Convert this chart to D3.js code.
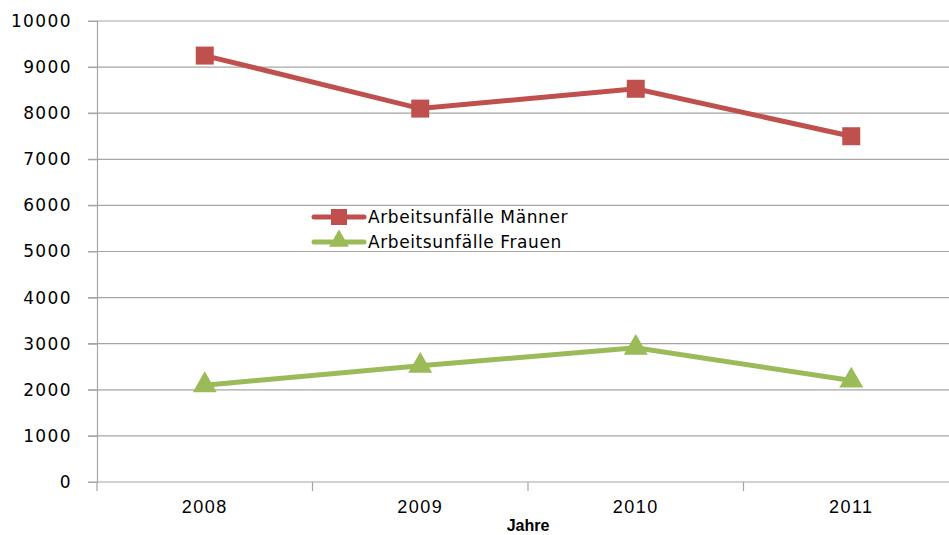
<!DOCTYPE html>
<html>
<head>
<meta charset="utf-8">
<script src="https://cdn.jsdelivr.net/npm/d3@7"></script>
<style>
  body { margin: 0; background: #fff; }
  svg { display: block; }
</style>
</head>
<body>
<div id="chart"></div>
<script>
// Arbeitsunfälle nach Geschlecht
var years = ["2008", "2009", "2010", "2011"];
var maenner = [9250, 8100, 8530, 7500];
var frauen = [2100, 2520, 2910, 2200];
var yTicks = [0, 1000, 2000, 3000, 4000, 5000, 6000, 7000, 8000, 9000, 10000];
var seriesNames = ["Arbeitsunfälle Männer", "Arbeitsunfälle Frauen"];

var W = 949, H = 535;
var margin = {top: 21, right: -10, bottom: 53, left: 97},
    width = W - margin.left - margin.right,
    height = H - margin.top - margin.bottom;

var red = "#c0504d", green = "#9bbb59";

var svg = d3.select("#chart")
  .append("svg")
  .attr("width", W)
  .attr("height", H)
  .append("g")
  .attr("transform", "translate(" + margin.left + "," + margin.top + ")");

var x = d3.scaleBand()
  .domain(years)
  .range([0, width]);

var y = d3.scaleLinear()
  .domain([0, 10000])
  .range([height, 0]);

// gridlines
svg.selectAll(".grid")
  .data(yTicks)
  .enter().append("line")
  .attr("x1", -9)
  .attr("x2", width)
  .attr("y1", function(d) { return y(d); })
  .attr("y2", function(d) { return y(d); })
  .attr("stroke", "#a6a6a6")
  .attr("stroke-width", 1.2);

// y axis
var yAxis = svg.append("g")
  .call(d3.axisLeft(y).tickValues(yTicks).tickFormat(d3.format("d")).tickSize(9).tickPadding(16));
yAxis.select(".domain").attr("stroke", "#a6a6a6").attr("stroke-width", 1.2);
yAxis.selectAll(".tick line").attr("stroke", "#a6a6a6");
yAxis.selectAll("text")
  .style("font-family", "DejaVu Sans, Verdana, sans-serif")
  .style("font-size", "17px")
  .style("letter-spacing", "1.4px")
  .attr("fill", "#000");

// x axis
var xAxis = svg.append("g")
  .attr("transform", "translate(0," + height + ")")
  .call(d3.axisBottom(x).tickSize(0).tickPadding(18));
xAxis.select(".domain").remove();
xAxis.selectAll("text")
  .style("font-family", "Liberation Sans Narrow, Liberation Sans, sans-serif")
  .style("font-size", "18px")
  .style("letter-spacing", "1.5px")
  .attr("fill", "#000");

// category separators
svg.selectAll(".xtick")
  .data(years)
  .enter().append("line")
  .attr("x1", function(d) { return x(d); })
  .attr("x2", function(d) { return x(d); })
  .attr("y1", height)
  .attr("y2", height + 9)
  .attr("stroke", "#a6a6a6")
  .attr("stroke-width", 1.2);

svg.append("text")
  .attr("x", (x("2009") + x("2010") + x.bandwidth()) / 2)
  .attr("y", height + 49)
  .attr("text-anchor", "middle")
  .style("font-family", "Liberation Sans Narrow, Liberation Sans, sans-serif")
  .style("font-size", "16px")
  .style("font-weight", "bold")
  .text("Jahre");

var line = d3.line()
  .x(function(d, i) { return x(years[i]) + x.bandwidth() / 2; })
  .y(function(d) { return y(d); });

// Männer
svg.append("path")
  .datum(maenner)
  .attr("fill", "none")
  .attr("stroke", red)
  .attr("stroke-width", 5)
  .attr("d", line);

svg.selectAll(".sq")
  .data(maenner)
  .enter().append("rect")
  .attr("x", function(d, i) { return x(years[i]) + x.bandwidth() / 2 - 9; })
  .attr("y", function(d) { return y(d) - 9; })
  .attr("width", 18)
  .attr("height", 18)
  .attr("fill", red);

// Frauen
svg.append("path")
  .datum(frauen)
  .attr("fill", "none")
  .attr("stroke", green)
  .attr("stroke-width", 5)
  .attr("d", line);

var tri = d3.symbol().type(d3.symbolTriangle).size(250);
svg.selectAll(".tri")
  .data(frauen)
  .enter().append("path")
  .attr("d", tri)
  .attr("transform", function(d, i) {
    return "translate(" + (x(years[i]) + x.bandwidth() / 2) + "," + y(d) + ")";
  })
  .attr("fill", green);

// legend
var legend = svg.append("g")
  .attr("transform", "translate(" + (312 - margin.left) + "," + (217 - margin.top) + ")");
var colors = [red, green];
seriesNames.forEach(function(name, i) {
  var g = legend.append("g").attr("transform", "translate(0," + (i * 25) + ")");
  g.append("line")
    .attr("x1", 2).attr("x2", 52)
    .attr("stroke", colors[i])
    .attr("stroke-width", 5)
    .attr("stroke-linecap", "round");
  if (i === 0) {
    g.append("rect").attr("x", 19).attr("y", -8).attr("width", 16).attr("height", 16).attr("fill", colors[i]);
  } else {
    g.append("path").attr("d", d3.symbol().type(d3.symbolTriangle).size(170)).attr("transform", "translate(27,-1)").attr("fill", colors[i]);
  }
  g.append("text")
    .attr("x", 56)
    .attr("y", 6)
    .style("font-family", "DejaVu Sans, Verdana, sans-serif")
    .style("font-size", "17px")
    .style("letter-spacing", "0.6px")
    .text(name);
});
</script>
</body>
</html>
